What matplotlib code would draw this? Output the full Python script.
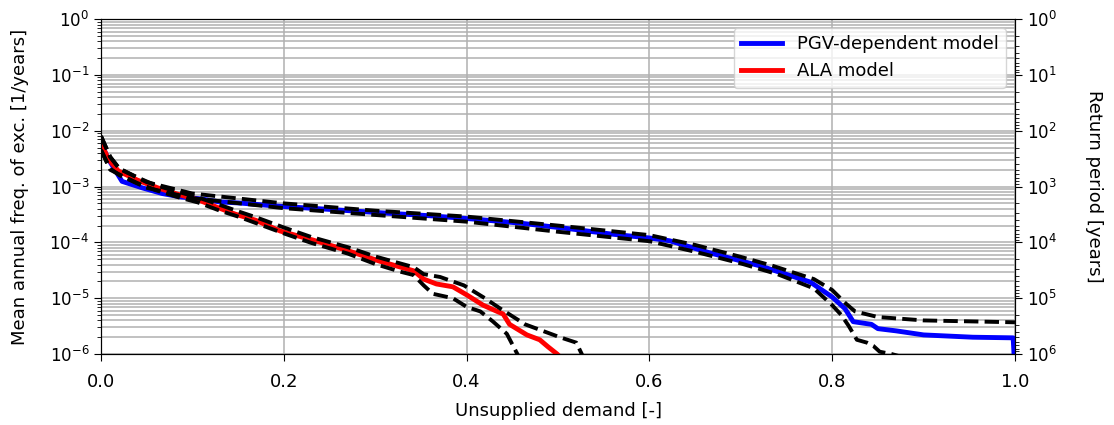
import numpy as np
import matplotlib
matplotlib.use('Agg')
import matplotlib.pyplot as plt

# PGV-dependent model (median, upper, lower)
pgv_x = [0.0, 0.008, 0.023, 0.045, 0.067, 0.088, 0.11, 0.13, 0.15, 0.17, 0.19,
         0.25, 0.305, 0.36, 0.41, 0.46, 0.513, 0.56, 0.6, 0.622, 0.666, 0.721,
         0.776, 0.80, 0.814, 0.823, 0.843, 0.85, 0.87, 0.90, 0.954, 0.998, 1.0]
pgv_y = [6e-3, 3.1e-3, 1.24e-3, 9.5e-4, 7.5e-4, 6.5e-4, 6.0e-4, 5.3e-4, 5.1e-4, 4.8e-4, 4.5e-4,
         3.9e-4, 3.4e-4, 3.0e-4, 2.6e-4, 2.2e-4, 1.75e-4, 1.4e-4, 1.2e-4, 1.07e-4, 6.5e-5, 3.8e-5,
         1.95e-5, 1.05e-5, 6.5e-6, 3.8e-6, 3.4e-6, 2.85e-6, 2.6e-6, 2.2e-6, 2.0e-6, 1.95e-6, 5e-7]

pgv_up_x = [0.0, 0.01, 0.02, 0.05, 0.1, 0.2, 0.3, 0.4, 0.5, 0.6, 0.65, 0.7, 0.735,
            0.76, 0.78, 0.80, 0.815, 0.825, 0.85, 0.9, 1.0]
pgv_up_y = [8e-3, 3.4e-3, 2.1e-3, 1.2e-3, 7.5e-4, 5.0e-4, 3.7e-4, 2.9e-4, 2.0e-4, 1.35e-4, 9e-5, 5.5e-5, 3.8e-5,
            2.8e-5, 2.2e-5, 1.4e-5, 8e-6, 5.8e-6, 4.6e-6, 4.0e-6, 3.7e-6]

pgv_lo_x = [0.0, 0.01, 0.02, 0.05, 0.1, 0.2, 0.3, 0.4, 0.5, 0.6, 0.65, 0.7, 0.74,
            0.78, 0.80, 0.81, 0.818, 0.827, 0.838, 0.845, 0.852, 0.865, 0.875]
pgv_lo_y = [4.5e-3, 2.1e-3, 1.6e-3, 9.5e-4, 6.2e-4, 4.1e-4, 3.1e-4, 2.35e-4, 1.55e-4, 1.05e-4, 6.8e-5, 4.2e-5, 2.7e-5,
            1.5e-5, 7.5e-6, 5e-6, 3.2e-6, 1.8e-6, 1.6e-6, 1.4e-6, 1.1e-6, 1.0e-6, 9e-7]

# ALA model (median, upper, lower)
ala_x = [0.0, 0.008, 0.019, 0.04, 0.062, 0.085, 0.106, 0.128, 0.147, 0.169, 0.196,
         0.232, 0.269, 0.305, 0.342, 0.353, 0.367, 0.385, 0.40, 0.418, 0.44, 0.447,
         0.466, 0.48, 0.489, 0.499, 0.505]
ala_y = [6e-3, 3.1e-3, 1.9e-3, 1.3e-3, 9.5e-4, 7.2e-4, 5.8e-4, 4.2e-4, 3.2e-4, 2.5e-4, 1.6e-4,
         1.1e-4, 7.2e-5, 4.6e-5, 3.1e-5, 2.2e-5, 1.8e-5, 1.6e-5, 1.15e-5, 7.5e-6, 5.2e-6, 3.4e-6,
         2.2e-6, 1.8e-6, 1.35e-6, 1.0e-6, 8e-7]

ala_up_x = [0.0, 0.01, 0.02, 0.04, 0.06, 0.085, 0.106, 0.13, 0.15, 0.17, 0.2, 0.23, 0.27,
            0.3, 0.342, 0.353, 0.371, 0.397, 0.42, 0.437, 0.464, 0.502, 0.52, 0.526, 0.528]
ala_up_y = [8e-3, 3.4e-3, 2.1e-3, 1.45e-3, 1.05e-3, 8e-4, 6.4e-4, 4.7e-4, 3.6e-4, 2.8e-4, 1.85e-4, 1.25e-4, 8.2e-5,
            5.6e-5, 3.6e-5, 2.7e-5, 2.4e-5, 1.7e-5, 1.0e-5, 6.5e-6, 3.4e-6, 2.0e-6, 1.6e-6, 1.0e-6, 8e-7]

ala_lo_x = [0.0, 0.01, 0.02, 0.04, 0.06, 0.085, 0.106, 0.13, 0.15, 0.17, 0.2, 0.23, 0.27,
            0.3, 0.327, 0.342, 0.353, 0.363, 0.385, 0.40, 0.415, 0.429, 0.444, 0.453, 0.457]
ala_lo_y = [4.5e-3, 2.0e-3, 1.65e-3, 1.15e-3, 8.6e-4, 6.4e-4, 5.2e-4, 3.7e-4, 2.9e-4, 2.2e-4, 1.45e-4, 9.8e-5, 6.3e-5,
            4.1e-5, 3.0e-5, 2.6e-5, 1.7e-5, 1.2e-5, 1.0e-5, 7.0e-6, 5.8e-6, 3.8e-6, 2.3e-6, 1.2e-6, 9e-7]

plt.rcParams['font.size'] = 13
plt.rcParams['ytick.labelsize'] = 12
plt.rcParams['xtick.major.size'] = 5
plt.rcParams['ytick.major.size'] = 5
plt.rcParams['ytick.minor.size'] = 2.8
plt.rcParams['xtick.major.pad'] = 8.5
plt.rcParams['ytick.major.pad'] = 3.5

fig = plt.figure(figsize=(11.14, 4.25), dpi=100)
ax = fig.add_axes([0.0907, 0.167, 0.8204, 0.788])

ax.plot(pgv_x, pgv_y, color='b', lw=3.5, label='PGV-dependent model')
ax.plot(ala_x, ala_y, color='r', lw=3.5, label='ALA model')
for xs, ys in [(pgv_up_x, pgv_up_y), (pgv_lo_x, pgv_lo_y), (ala_up_x, ala_up_y), (ala_lo_x, ala_lo_y)]:
    ax.plot(xs, ys, color='k', lw=2.8, ls='--')

ax.set_yscale('log')
ax.set_xlim(0, 1)
ax.set_ylim(1e-6, 1)
ax.grid(True, which='major', color='#b0b0b0', lw=1.1)
ax.yaxis.grid(True, which='minor', color='#b0b0b0', lw=1.1)
ax.set_axisbelow(True)
ax.set_xlabel('Unsupplied demand [-]', labelpad=8)
ax.set_ylabel('Mean annual freq. of exc. [1/years]', labelpad=15)
ax.legend(loc='upper right', handlelength=2.3)

ax2 = ax.twinx()
ax2.set_yscale('log')
ax2.set_ylim(1e6, 1)
ax2.set_ylabel('Return period [years]', rotation=270, labelpad=33)

plt.savefig('out.png', dpi=100)
